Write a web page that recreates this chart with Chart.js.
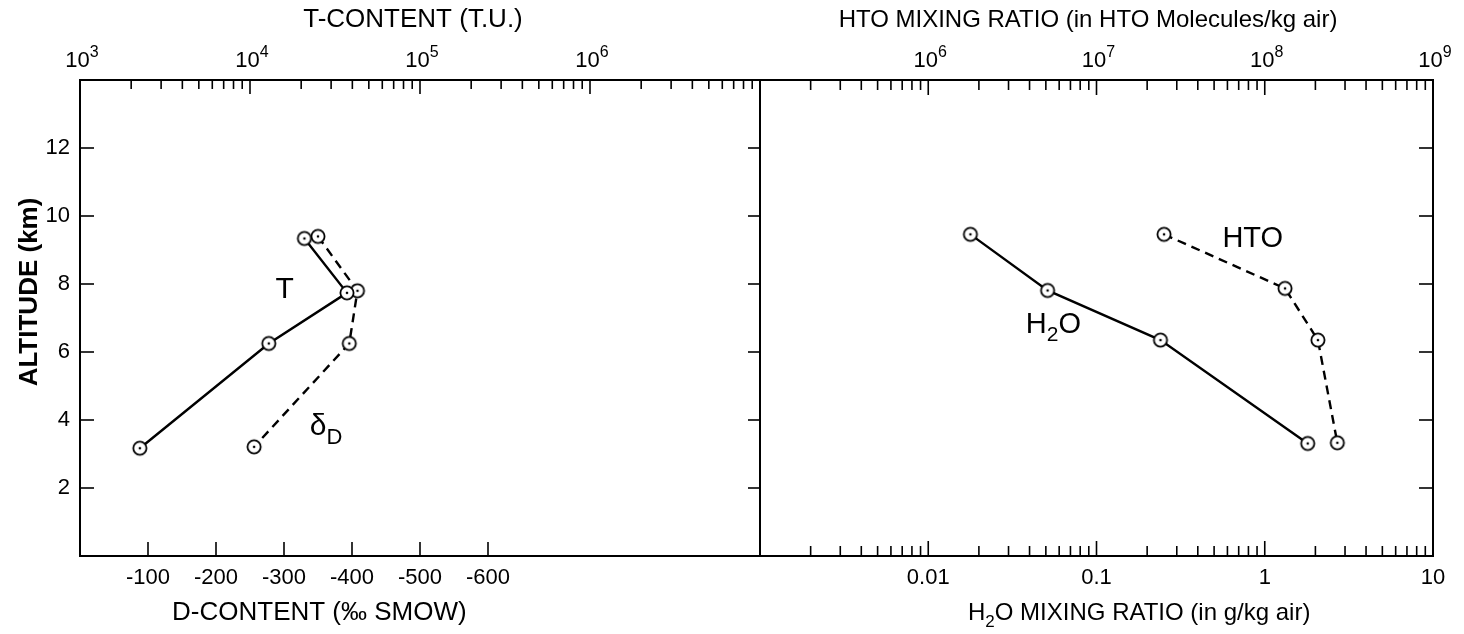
<!DOCTYPE html>
<html>
<head>
<meta charset="utf-8">
<script src="https://cdn.jsdelivr.net/npm/chart.js@4.4.1/dist/chart.umd.min.js"></script>
<style>
  html, body { margin: 0; padding: 0; background: #fff; }
  #wrap { position: relative; width: 1464px; height: 634px; }
  canvas { position: absolute; left: 0; top: 0; }
</style>
</head>
<body>
<div id="wrap">
  <canvas id="leftChart" width="1464" height="634"></canvas>
  <canvas id="rightChart" width="1464" height="634"></canvas>
</div>
<script>
// ---- data ----
// left panel: tritium content (top, log) and deuterium content (bottom, linear)
const tAltitude = [9.34, 7.74, 6.25, 3.17];
const tContent = [20900, 37200, 12900, 2250];          // T.U.
const dAltitude = [9.40, 7.80, 6.25, 3.21];
const dContent = [-350, -408, -396, -256];            // per mil SMOW

// right panel: HTO (top, log) and H2O (bottom, log) mixing ratios
const h2oAltitude = [9.46, 7.81, 6.35, 3.31];
const h2oRatio = [0.0178, 0.0512, 0.240, 1.80];        // g/kg air
const htoAltitude = [9.46, 7.87, 6.35, 3.33];
const htoRatio = [2.52e7, 1.32e8, 2.07e8, 2.70e8];     // molecules/kg air

// tick labels
const altitudeTicks = [2, 4, 6, 8, 10, 12];
const dContentTicks = [-100, -200, -300, -400, -500, -600];
const tContentTicks = [1e3, 1e4, 1e5, 1e6];
const htoTicks = [1e6, 1e7, 1e8, 1e9];
const h2oTicks = [0.01, 0.1, 1, 10];

const FONT = '"Liberation Sans", Arial, sans-serif';

function toPoints(xs, ys) {
  return xs.map((x, i) => ({ x: x, y: ys[i] }));
}

// circle with a dot in the middle
function makeMarker() {
  const c = document.createElement('canvas');
  c.width = 18; c.height = 18;
  const g = c.getContext('2d');
  g.beginPath();
  g.arc(9, 9, 6.6, 0, Math.PI * 2);
  g.fillStyle = '#fff';
  g.fill();
  g.lineWidth = 1.8;
  g.strokeStyle = '#000';
  g.stroke();
  g.beginPath();
  g.arc(9, 9, 1.3, 0, Math.PI * 2);
  g.fillStyle = '#000';
  g.fill();
  return c;
}
const marker = makeMarker();

function logTickValues(fromExp, toExp) {
  const out = [];
  for (let e = fromExp; e < toExp; e++) {
    for (let m = 1; m < 10; m++) out.push({ v: m * Math.pow(10, e), major: m === 1 });
  }
  out.push({ v: Math.pow(10, toExp), major: true });
  return out;
}

function fixedAxis(size) {
  return function (scale) {
    if (scale.isHorizontal()) {
      scale.height = size;
      scale.paddingLeft = 0;
      scale.paddingRight = 0;
    } else {
      scale.width = size;
      scale.paddingTop = 0;
      scale.paddingBottom = 0;
    }
  };
}

function setTicks(values) {
  return function (scale) {
    scale.ticks = values.map(v => ({ value: v }));
  };
}

function line(ctx, x1, y1, x2, y2) {
  ctx.beginPath();
  ctx.moveTo(x1, y1);
  ctx.lineTo(x2, y2);
  ctx.stroke();
}

// draw text runs; sub/sup runs are smaller and shifted
function textRuns(ctx, runs, x, y, size, align, weight) {
  const w = weight || 'normal';
  const fontOf = r => w + ' ' + (r.sub || r.sup ? Math.round(size * 0.72) : size) + 'px ' + FONT;
  const widths = runs.map(r => {
    ctx.font = fontOf(r);
    return ctx.measureText(r.t).width;
  });
  const total = widths.reduce((a, b) => a + b, 0);
  let cx = align === 'center' ? x - total / 2 : x;
  ctx.textAlign = 'left';
  ctx.textBaseline = 'alphabetic';
  ctx.fillStyle = '#000';
  runs.forEach((r, i) => {
    ctx.font = fontOf(r);
    let dy = 0;
    if (r.sub) dy = size * 0.28;
    if (r.sup) dy = -size * 0.45;
    ctx.fillText(r.t, cx, y + dy);
    cx += widths[i];
  });
}

// 10^n labels above a log axis
function powerLabels(ctx, scale, values, y) {
  values.forEach(v => {
    const e = Math.round(Math.log10(v));
    textRuns(ctx, [{ t: '10' }, { t: String(e), sup: true }], scale.getPixelForValue(v) + 2, y, 22, 'center');
  });
}

const tickFont = { family: FONT, size: 22 };

const hiddenGrid = { display: false, drawTicks: false };
const noBorder = { display: false };

// ---- left panel decorations ----
const leftDecor = {
  id: 'leftDecor',
  afterDraw(chart) {
    const ctx = chart.ctx;
    const a = chart.chartArea;
    const xT = chart.scales.xT, xD = chart.scales.xD, y = chart.scales.y;
    ctx.save();
    ctx.strokeStyle = '#000';
    ctx.lineWidth = 2;
    ctx.strokeRect(a.left, a.top, a.right - a.left, a.bottom - a.top);
    ctx.lineWidth = 1.6;
    logTickValues(3, 7).forEach(t => {
      const px = xT.getPixelForValue(t.v);
      line(ctx, px, a.top, px, a.top + (t.major ? 14 : 9));
    });
    [0].concat(dContentTicks).forEach(v => {
      const px = xD.getPixelForValue(v);
      line(ctx, px, a.bottom, px, a.bottom - 14);
    });
    altitudeTicks.forEach(v => {
      const py = y.getPixelForValue(v);
      line(ctx, a.left, py, a.left + 14, py);
      line(ctx, a.right, py, a.right - 12, py);
    });
    powerLabels(ctx, xT, tContentTicks, 67);
    textRuns(ctx, [{ t: 'T-CONTENT (T.U.)' }], 413, 27, 26, 'center');
    textRuns(ctx, [{ t: 'D-CONTENT (‰ SMOW)' }], xD.getPixelForValue(-352), 620, 26, 'center');
    ctx.save();
    ctx.translate(37, 292);
    ctx.rotate(-Math.PI / 2);
    textRuns(ctx, [{ t: 'ALTITUDE (km)' }], 0, 0, 26, 'center', 'bold');
    ctx.restore();
    textRuns(ctx, [{ t: 'T' }], xT.getPixelForValue(16000), y.getPixelForValue(7.6), 30, 'center');
    textRuns(ctx, [{ t: 'δ' }, { t: 'D', sub: true }], xD.getPixelForValue(-362), y.getPixelForValue(3.55), 30, 'center');
    ctx.restore();
  }
};

// ---- right panel decorations ----
const rightDecor = {
  id: 'rightDecor',
  afterDraw(chart) {
    const ctx = chart.ctx;
    const a = chart.chartArea;
    const xH = chart.scales.xHTO, xW = chart.scales.xH2O, y = chart.scales.y;
    ctx.save();
    ctx.strokeStyle = '#000';
    ctx.lineWidth = 2;
    ctx.strokeRect(a.left, a.top, a.right - a.left, a.bottom - a.top);
    ctx.lineWidth = 1.6;
    logTickValues(5, 9).forEach(t => {
      const px = xH.getPixelForValue(t.v);
      line(ctx, px, a.top, px, a.top + (t.major ? 15 : 10));
    });
    logTickValues(-3, 1).forEach(t => {
      const px = xW.getPixelForValue(t.v);
      line(ctx, px, a.bottom, px, a.bottom - (t.major ? 15 : 10));
    });
    altitudeTicks.forEach(v => {
      const py = y.getPixelForValue(v);
      line(ctx, a.right, py, a.right - 14, py);
    });
    powerLabels(ctx, xH, htoTicks, 67);
    textRuns(ctx, [{ t: 'HTO MIXING RATIO (in HTO Molecules/kg air)' }], 1088, 27, 24, 'center');
    textRuns(ctx, [{ t: 'H' }, { t: '2', sub: true }, { t: 'O MIXING RATIO (in g/kg air)' }], 968, 620, 24, 'left');
    textRuns(ctx, [{ t: 'HTO' }], xH.getPixelForValue(5.6e7), y.getPixelForValue(9.4) + 11, 29, 'left');
    textRuns(ctx, [{ t: 'H' }, { t: '2', sub: true }, { t: 'O' }], xW.getPixelForValue(0.038), y.getPixelForValue(6.55), 29, 'left');
    ctx.restore();
  }
};

const solid = {
  showLine: true,
  borderColor: '#000',
  borderWidth: 2.4,
  pointStyle: marker,
  pointRadius: 7,
  pointHoverRadius: 7,
  backgroundColor: '#fff'
};
const dashed = Object.assign({}, solid, { borderDash: [9, 6] });

new Chart(document.getElementById('leftChart'), {
  type: 'scatter',
  data: {
    datasets: [
      Object.assign({ label: 'T', data: toPoints(tContent, tAltitude), xAxisID: 'xT', yAxisID: 'y' }, solid),
      Object.assign({ label: 'δD', data: toPoints(dContent, dAltitude), xAxisID: 'xD', yAxisID: 'y' }, dashed)
    ]
  },
  options: {
    responsive: false,
    animation: false,
    devicePixelRatio: 1,
    layout: { padding: { left: 0, right: 704, top: 0, bottom: 0 } },
    plugins: { legend: { display: false }, tooltip: { enabled: false } },
    scales: {
      xT: {
        type: 'logarithmic', position: 'top', min: 1e3, max: 1e7,
        grid: hiddenGrid, border: noBorder,
        afterBuildTicks: setTicks(tContentTicks),
        afterFit: fixedAxis(80),
        ticks: { display: false }
      },
      xD: {
        type: 'linear', position: 'bottom', min: -1000, max: 0, reverse: true,
        grid: hiddenGrid, border: noBorder,
        afterBuildTicks: setTicks(dContentTicks),
        afterFit: fixedAxis(78),
        ticks: { autoSkip: false, maxRotation: 0, padding: 9, color: '#000', font: tickFont, callback: v => String(v) }
      },
      y: {
        type: 'linear', position: 'left', min: 0, max: 14,
        grid: hiddenGrid, border: noBorder,
        afterBuildTicks: setTicks(altitudeTicks),
        afterFit: fixedAxis(80),
        ticks: { autoSkip: false, padding: 10, color: '#000', font: tickFont }
      }
    }
  },
  plugins: [leftDecor]
});

new Chart(document.getElementById('rightChart'), {
  type: 'scatter',
  data: {
    datasets: [
      Object.assign({ label: 'H2O', data: toPoints(h2oRatio, h2oAltitude), xAxisID: 'xH2O', yAxisID: 'y' }, solid),
      Object.assign({ label: 'HTO', data: toPoints(htoRatio, htoAltitude), xAxisID: 'xHTO', yAxisID: 'y' }, dashed)
    ]
  },
  options: {
    responsive: false,
    animation: false,
    devicePixelRatio: 1,
    layout: { padding: { left: 760, right: 31, top: 0, bottom: 0 } },
    plugins: { legend: { display: false }, tooltip: { enabled: false } },
    scales: {
      xHTO: {
        type: 'logarithmic', position: 'top', min: 1e5, max: 1e9,
        grid: hiddenGrid, border: noBorder,
        afterBuildTicks: setTicks(htoTicks),
        afterFit: fixedAxis(80),
        ticks: { display: false }
      },
      xH2O: {
        type: 'logarithmic', position: 'bottom', min: 1e-3, max: 10,
        grid: hiddenGrid, border: noBorder,
        afterBuildTicks: setTicks(h2oTicks),
        afterFit: fixedAxis(78),
        ticks: { autoSkip: false, maxRotation: 0, padding: 9, color: '#000', font: tickFont, callback: v => String(v) }
      },
      y: {
        type: 'linear', display: false, min: 0, max: 14
      }
    }
  },
  plugins: [rightDecor]
});
</script>
</body>
</html>
